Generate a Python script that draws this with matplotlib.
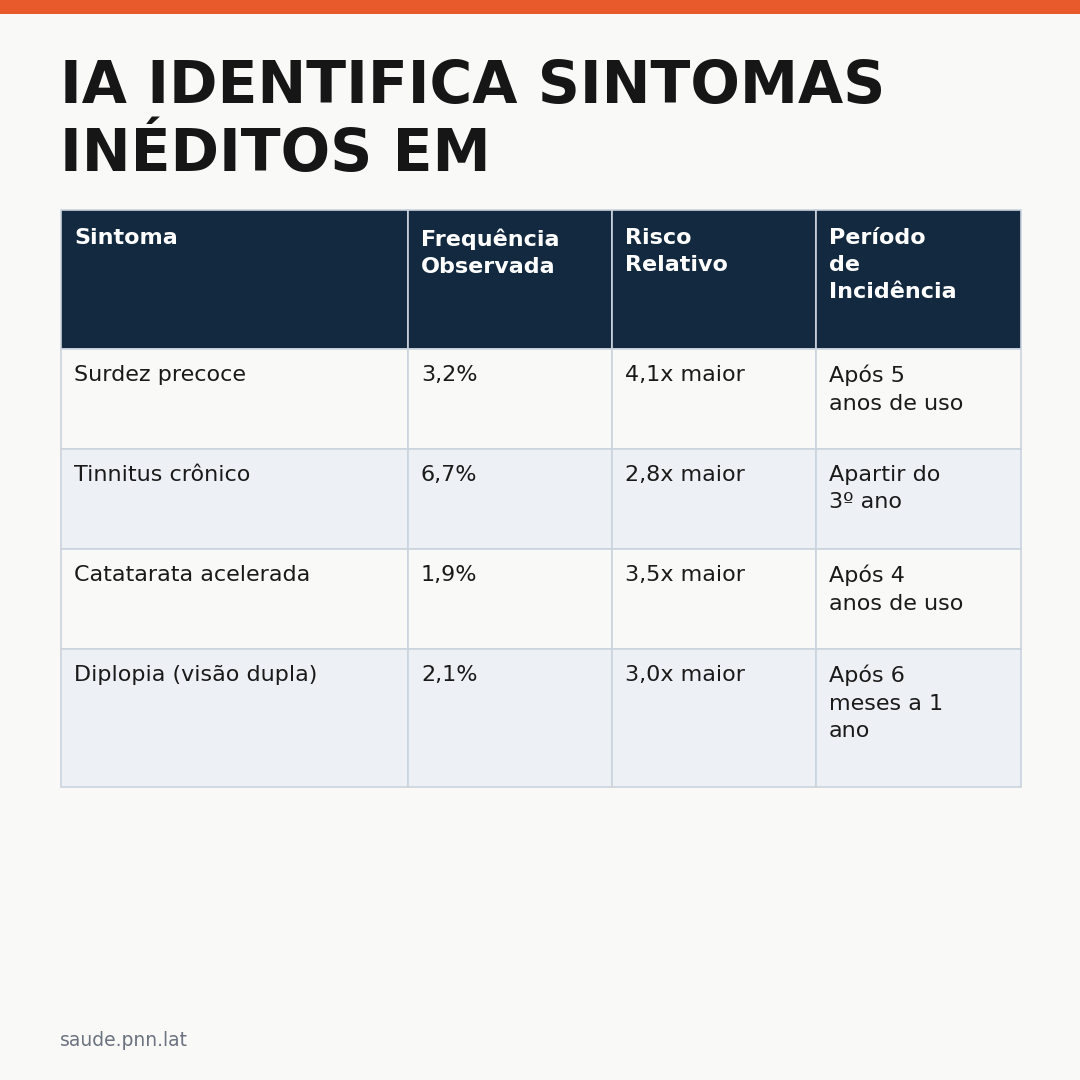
import matplotlib
matplotlib.use("Agg")
import matplotlib.pyplot as plt
from matplotlib.patches import Rectangle

title_lines = ["IA IDENTIFICA SINTOMAS", "INÉDITOS EM"]
headers = ["Sintoma", "Frequência\nObservada", "Risco\nRelativo", "Período\nde\nIncidência"]
sintomas = ["Surdez precoce", "Tinnitus crônico", "Catatarata acelerada", "Diplopia (visão dupla)"]
frequencias = ["3,2%", "6,7%", "1,9%", "2,1%"]
riscos = ["4,1x maior", "2,8x maior", "3,5x maior", "3,0x maior"]
periodos = ["Após 5\nanos de uso", "Apartir do\n3º ano", "Após 4\nanos de uso", "Após 6\nmeses a 1\nano"]
footer = "saude.pnn.lat"

BG = "#F9F9F7"
fig = plt.figure(figsize=(10.8, 10.8), dpi=100, facecolor=BG)
ax = fig.add_axes([0, 0, 1, 1])
ax.set_xlim(0, 1080); ax.set_ylim(1080, 0); ax.axis("off")
ax.add_patch(Rectangle((0, 0), 1080, 14, color="#E85A2C", lw=0))

for i, t in enumerate(title_lines):
    ax.text(60, 103 + i * 68, t, fontsize=42, fontweight="bold", color="#161616",
            va="baseline", ha="left", family="DejaVu Sans")

cols = [61, 408, 612, 816, 1021]
rows = [210, 349, 449, 549, 649, 787]
border = "#CBD3DD"
# header
for c in range(4):
    ax.add_patch(Rectangle((cols[c], rows[0]), cols[c+1]-cols[c], rows[1]-rows[0],
                           facecolor="#12293F", edgecolor=border, lw=1.2))
    ax.text(cols[c] + 13, rows[0] + 18, headers[c], fontsize=16, fontweight="bold",
            color="white", va="top", ha="left", linespacing=1.45)

data = list(zip(sintomas, frequencias, riscos, periodos))
for r, row in enumerate(data):
    fc = BG if r % 2 == 0 else "#EDF1F5"
    for c in range(4):
        ax.add_patch(Rectangle((cols[c], rows[r+1]), cols[c+1]-cols[c], rows[r+2]-rows[r+1],
                               facecolor=fc, edgecolor=border, lw=1.2))
        ax.text(cols[c] + 13, rows[r+1] + 16, row[c], fontsize=16, color="#1A1A1A",
                va="top", ha="left", linespacing=1.45)

ax.text(60, 1040, footer, fontsize=13.5, color="#6B7280", va="center", ha="left")
fig.savefig("out.png", dpi=100, facecolor=BG)
